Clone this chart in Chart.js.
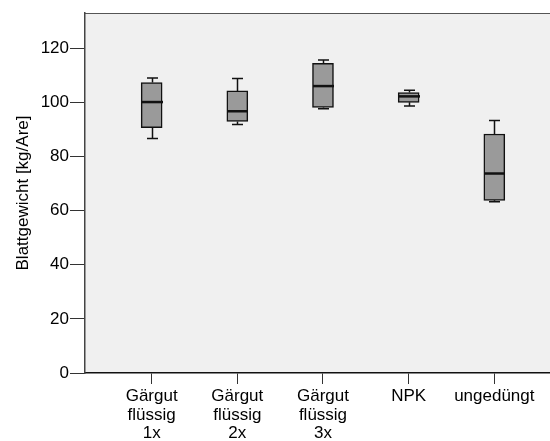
<!DOCTYPE html>
<html>
<head>
<meta charset="utf-8">
<script src="https://cdn.jsdelivr.net/npm/chart.js@4/dist/chart.umd.min.js"></script>
<style>
  html, body { margin: 0; padding: 0; background: #fff; }
  #wrap { width: 550px; height: 441px; }
</style>
</head>
<body>
<div id="wrap"><canvas id="chart"></canvas></div>
<script>
// categories and box statistics
const categories = [["Gärgut", "flüssig", "1x"], ["Gärgut", "flüssig", "2x"], ["Gärgut", "flüssig", "3x"], ["NPK"], ["ungedüngt"]];
const whiskerLow = [86.6, 91.8, 97.6, 98.6, 63.3];
const q1 = [90.6, 92.9, 98.1, 100.0, 63.8];
const median = [100.1, 96.7, 106.0, 102.2, 73.7];
const q3 = [107.3, 104.2, 114.4, 103.6, 88.3];
const whiskerHigh = [109.0, 108.8, 115.6, 104.5, 93.3];
const yTicks = [0, 20, 40, 60, 80, 100, 120];

const family = "'Liberation Sans', Arial, sans-serif";

const boxData = categories.map((c, i) => ({ x: i + 1, y: [q1[i], q3[i]] }));

const boxPlot = {
  id: "boxPlot",
  beforeDraw(chart) {
    const { ctx, chartArea: a } = chart;
    ctx.save();
    ctx.fillStyle = "#f0f0f0";
    ctx.fillRect(a.left, a.top, a.right - a.left, a.bottom - a.top);
    ctx.strokeStyle = "#555";
    ctx.lineWidth = 1;
    ctx.beginPath();
    ctx.moveTo(a.left, a.top + 0.5);
    ctx.lineTo(a.right, a.top + 0.5);
    ctx.stroke();
    ctx.restore();
  },
  afterDatasetsDraw(chart) {
    const { ctx, scales: { x, y } } = chart;
    ctx.save();
    ctx.strokeStyle = "#111";
    ctx.lineWidth = 1.5;
    categories.forEach((c, i) => {
      const cx = Math.round(x.getPixelForValue(i + 1)) + 0.5;
      const half = 10.5;
      const cap = 5.5;
      ctx.beginPath();
      // upper whisker
      ctx.moveTo(cx, y.getPixelForValue(q3[i]));
      ctx.lineTo(cx, y.getPixelForValue(whiskerHigh[i]));
      ctx.moveTo(cx - cap, y.getPixelForValue(whiskerHigh[i]));
      ctx.lineTo(cx + cap, y.getPixelForValue(whiskerHigh[i]));
      // lower whisker
      ctx.moveTo(cx, y.getPixelForValue(q1[i]));
      ctx.lineTo(cx, y.getPixelForValue(whiskerLow[i]));
      ctx.moveTo(cx - cap, y.getPixelForValue(whiskerLow[i]));
      ctx.lineTo(cx + cap, y.getPixelForValue(whiskerLow[i]));
      ctx.stroke();
      // median
      ctx.beginPath();
      ctx.lineWidth = 2.5;
      ctx.moveTo(cx - half, y.getPixelForValue(median[i]));
      ctx.lineTo(cx + half, y.getPixelForValue(median[i]));
      ctx.stroke();
      ctx.lineWidth = 1.5;
    });
    ctx.restore();
  }
};

new Chart(document.getElementById("chart"), {
  type: "bar",
  data: {
    datasets: [{
      data: boxData,
      backgroundColor: "#9a9a9a",
      borderColor: "#111",
      borderWidth: 1.5,
      borderSkipped: false,
      barThickness: 21
    }]
  },
  options: {
    responsive: true,
    maintainAspectRatio: false,
    animation: false,
    layout: { padding: { top: 13, right: 0, left: 0, bottom: 0 } },
    plugins: { legend: { display: false }, tooltip: { enabled: false } },
    scales: {
      x: {
        type: "linear",
        offset: false,
        min: 0.222,
        max: 5.65,
        afterBuildTicks: (axis) => { axis.ticks = [1, 2, 3, 4, 5].map(v => ({ value: v })); },
        afterFit: (axis) => { axis.height = 68; },
        grid: { offset: false, drawOnChartArea: false, drawTicks: true, tickLength: 11, color: "#333", lineWidth: 1 },
        border: { display: true, color: "#111", width: 1.5 },
        ticks: {
          color: "#000",
          font: { family: family, size: 17, lineHeight: 1.1 },
          padding: 3,
          maxRotation: 0,
          autoSkip: false,
          callback: (v) => categories[v - 1]
        }
      },
      y: {
        min: 0,
        max: 133,
        afterBuildTicks: (axis) => { axis.ticks = yTicks.map(v => ({ value: v })); },
        afterFit: (axis) => { axis.width = 85; },
        grid: { drawOnChartArea: false, drawTicks: true, tickLength: 15, color: "#333", lineWidth: 1 },
        border: { display: true, color: "#444", width: 1.5 },
        ticks: { color: "#000", font: { family: family, size: 17 }, padding: 1 },
        title: {
          display: true,
          text: "Blattgewicht [kg/Are]",
          color: "#000",
          font: { family: family, size: 17 },
          padding: { top: 13, bottom: 0 }
        }
      }
    }
  },
  plugins: [boxPlot]
});
</script>
</body>
</html>
